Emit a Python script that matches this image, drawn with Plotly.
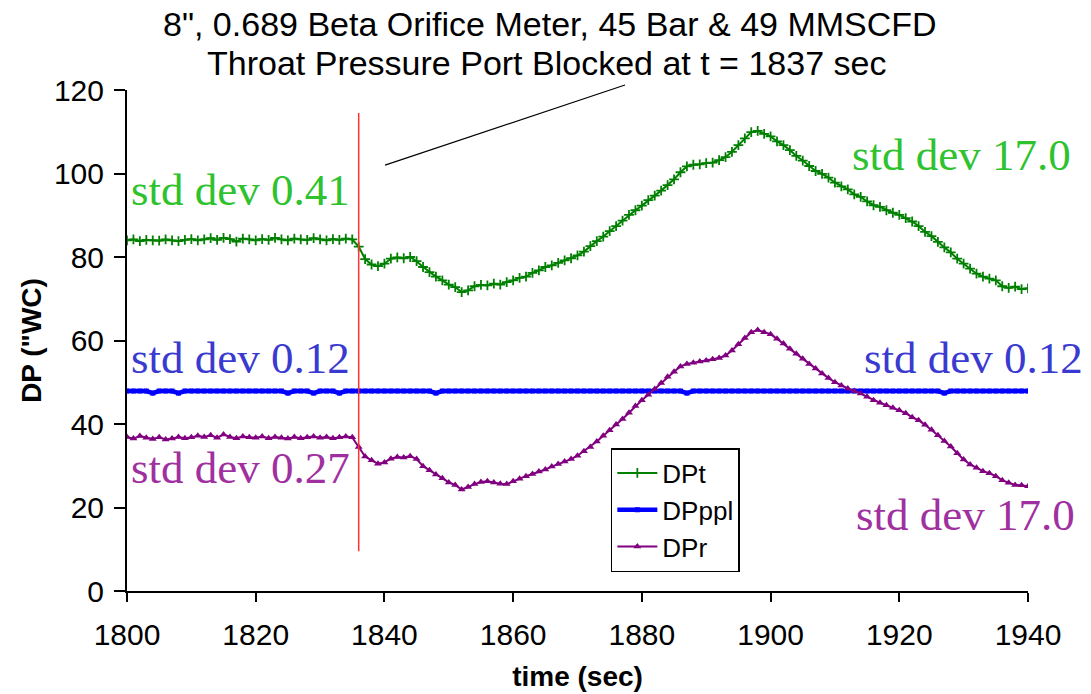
import plotly.graph_objects as go

# ---------------- data ----------------
time_sec = list(range(1800, 1941))

dp_t = [
    84.0, 84.2, 83.8, 84.1, 84.0, 83.9, 84.2, 84.0, 83.8, 84.1,
    84.3, 84.0, 84.2, 84.5, 84.1, 84.6, 84.3, 83.7, 84.4, 84.2,
    84.0, 84.3, 84.1, 84.6, 84.2, 84.0, 84.4, 84.2, 84.1, 84.5,
    84.2, 84.0, 84.3, 84.1, 84.4, 84.2,
    82.5, 79.5, 78.2, 77.8, 78.4, 79.6, 79.9, 79.7, 80.0, 79.0,
    77.6, 76.4, 75.3, 74.4, 73.4, 72.8, 71.6, 72.0, 73.0, 73.3,
    73.2, 73.6, 73.4, 74.0, 74.4, 75.0, 75.3, 76.2, 76.8, 77.6,
    78.0, 78.6, 79.2, 79.7, 80.4, 81.3, 82.6, 83.8, 84.9, 86.2,
    87.4, 88.7, 90.1, 91.2, 92.3, 93.6, 94.7, 95.9, 97.2, 98.6,
    100.3, 101.7, 102.1, 102.2, 102.5, 102.6, 103.2, 103.9, 105.2, 106.8,
    108.4, 109.9, 110.2, 109.5, 108.9, 107.7, 106.8, 105.6, 104.2, 103.1,
    101.8, 100.6, 99.9, 99.0, 97.8, 96.9, 96.2, 95.0, 94.4, 93.3,
    92.4, 92.0, 91.2, 90.6, 90.1, 89.3, 88.5, 87.4, 86.0, 85.0,
    83.6, 82.3, 81.1, 79.6, 78.4, 77.2, 76.0, 75.3, 74.8, 74.4,
    73.0, 72.6, 72.9, 72.3, 72.5,
]

dp_ppl = [
    47.9, 47.9, 47.9, 47.9, 47.4, 47.9, 47.9, 47.9, 47.4, 47.9,
    47.9, 47.9, 47.9, 47.9, 47.9, 47.9, 47.9, 47.9, 47.9, 47.9,
    47.9, 47.9, 47.9, 47.9, 47.9, 47.4, 47.9, 47.9, 47.9, 47.4,
    47.9, 47.9, 47.9, 47.4, 47.9, 47.9,
    47.9, 47.9, 47.9, 47.9, 47.9, 47.9, 47.9, 47.9, 47.9, 47.9,
    47.9, 47.9, 47.4, 47.9, 47.9, 47.9, 47.9, 47.9, 47.9, 47.9,
    47.9, 47.9, 47.9, 47.9, 47.9, 47.9, 47.9, 47.9, 47.9, 47.9,
    47.9, 47.9, 47.9, 47.9, 47.9, 47.9, 47.9, 47.9, 47.9, 47.9,
    47.9, 47.9, 47.9, 47.9, 47.9, 47.9, 47.9, 47.9, 47.9, 47.9,
    47.9, 47.4, 47.9, 47.9, 47.9, 47.9, 47.9, 47.9, 47.9, 47.9,
    47.9, 47.9, 47.9, 47.9, 47.9, 47.9, 47.9, 47.9, 47.9, 47.9,
    47.9, 47.9, 47.9, 47.9, 47.9, 47.9, 47.9, 47.9, 47.9, 47.9,
    47.9, 47.9, 47.9, 47.9, 47.9, 47.9, 47.9, 47.9, 47.9, 47.9,
    47.9, 47.4, 47.9, 47.9, 47.9, 47.9, 47.9, 47.9, 47.9, 47.9,
    47.9, 47.9, 47.9, 47.9, 47.9,
]

dp_r = [
    36.9, 36.5, 37.1, 36.7, 36.4, 36.8, 36.3, 36.5, 36.9, 36.6,
    36.8, 37.2, 36.9, 37.3, 36.7, 37.5, 36.9, 36.6, 37.0, 36.8,
    36.7, 37.0, 36.6, 36.9, 36.7, 36.5, 36.9, 36.6, 36.8, 37.0,
    36.7, 36.9, 36.6, 36.8, 37.0, 36.8,
    34.5, 32.2, 31.3, 30.5, 30.8, 31.7, 32.1, 32.0, 32.3, 31.6,
    29.9, 28.9, 27.9, 27.0, 26.0, 25.4, 24.3, 24.9, 25.6, 26.1,
    26.3, 26.0, 25.7, 25.6, 26.3, 26.9, 27.5, 28.0, 28.6, 29.1,
    29.8, 30.4, 31.0, 31.6, 32.4, 33.5, 34.5, 35.8, 37.2, 38.5,
    39.9, 41.2, 42.7, 44.3, 45.7, 47.0, 48.4, 49.8, 51.3, 52.5,
    53.8, 54.4, 54.7, 55.0, 55.2, 55.5, 55.8, 56.4, 57.6, 59.1,
    60.6, 62.0, 62.5, 62.0, 61.5, 60.4, 59.3, 58.0, 56.8, 55.6,
    54.4, 53.3, 52.1, 51.0, 50.0, 49.2, 48.5, 47.9, 47.3, 46.5,
    45.7, 45.1, 44.5, 43.9, 43.3, 42.6, 41.6, 40.9, 39.8, 38.6,
    37.3, 35.9, 34.6, 33.0, 31.5, 30.3, 29.5, 28.7, 28.2, 27.5,
    26.5, 25.9, 25.4, 25.3, 25.1,
]

series_names = ["DPt", "DPppl", "DPr"]
x_ticks = [1800, 1820, 1840, 1860, 1880, 1900, 1920, 1940]
y_ticks = [0, 20, 40, 60, 80, 100, 120]
block_time = 1836
block_span = [9.5, 114.5]

std_texts = ["std dev 0.41", "std dev 17.0", "std dev 0.12",
             "std dev 0.12", "std dev 0.27", "std dev 17.0"]

title_lines = ["8\", 0.689 Beta Orifice Meter, 45 Bar & 49 MMSCFD",
               "Throat Pressure Port Blocked at t = 1837 sec"]

# ---------------- figure ----------------
GREEN = "#008000"
BLUE = "#0000FF"
PURPLE = "#800080"

fig = go.Figure()
fig.add_trace(go.Scatter(
    x=time_sec, y=dp_t, name=series_names[0], mode="lines+markers",
    line=dict(color=GREEN, width=2),
    marker=dict(symbol="cross-thin", size=7, color=GREEN,
                line=dict(width=1.8, color=GREEN)),
))
fig.add_trace(go.Scatter(
    x=time_sec, y=dp_ppl, name=series_names[1], mode="lines+markers",
    line=dict(color=BLUE, width=4.5),
    marker=dict(symbol="square", size=5, color=BLUE),
))
fig.add_trace(go.Scatter(
    x=time_sec, y=dp_r, name=series_names[2], mode="lines+markers",
    line=dict(color=PURPLE, width=2),
    marker=dict(symbol="triangle-up", size=7, color=PURPLE),
))

# red vertical line marking the blockage
fig.add_shape(type="line", xref="x", yref="y",
              x0=block_time, x1=block_time, y0=block_span[0], y1=block_span[1],
              line=dict(color="#FF3030", width=1.5))
# pointer line from title
fig.add_shape(type="line", xref="paper", yref="paper",
              x0=0.2864, y0=0.850, x1=0.5527, y1=1.010,
              line=dict(color="black", width=1.2))

serif = "Liberation Serif, Times New Roman, serif"
label_specs = [
    (std_texts[0], "#2EC22E", 0.1265, 0.800),
    (std_texts[1], "#2EC22E", 0.926, 0.870),
    (std_texts[2], "#3A3AD0", 0.1265, 0.465),
    (std_texts[3], "#3A3AD0", 0.940, 0.465),
    (std_texts[4], "#A0309F", 0.1265, 0.245),
    (std_texts[5], "#A0309F", 0.931, 0.152),
]
for text, color, xp, yp in label_specs:
    fig.add_annotation(text=text, x=xp, y=yp, xref="paper", yref="paper",
                       showarrow=False, xanchor="center", yanchor="middle",
                       font=dict(family=serif, size=45, color=color))

sans = "Liberation Sans, Arial, sans-serif"
# title (two lines)
for line, xp, yp in [(title_lines[0], 0.4695, 1.1317), (title_lines[1], 0.4656, 1.0539)]:
    fig.add_annotation(text=line, x=xp, y=yp, xref="paper", yref="paper",
                       showarrow=False, xanchor="center", yanchor="middle",
                       font=dict(family=sans, size=34, color="black"))

fig.update_layout(
    width=1091, height=694,
    paper_bgcolor="white", plot_bgcolor="white",
    margin=dict(l=127, r=63, t=90, b=103),
    font=dict(family=sans, color="black"),
    showlegend=True,
    legend=dict(x=0.537, y=0.2854, xanchor="left", yanchor="top",
                bordercolor="black", borderwidth=1.5, bgcolor="white",
                font=dict(family=sans, size=26, color="black"),
                tracegroupgap=0, itemwidth=40),
    xaxis=dict(range=[1800, 1940], tickvals=x_ticks, showgrid=False,
               zeroline=False, showline=True, linecolor="black", linewidth=2,
               ticks="outside", ticklen=9, tickwidth=2, tickcolor="black",
               ticklabelstandoff=7, automargin=False,
               tickfont=dict(family=sans, size=30),
               title=dict(text="<b>time (sec)</b>", standoff=16,
                          font=dict(family=sans, size=28))),
    yaxis=dict(range=[0, 120], tickvals=y_ticks, showgrid=False,
               zeroline=False, showline=True, linecolor="black", linewidth=2,
               ticks="outside", ticklen=11, tickwidth=2, tickcolor="black",
               ticklabelstandoff=4, automargin=False,
               tickfont=dict(family=sans, size=30),
               title=dict(text="<b>DP (\"WC)</b>", standoff=4,
                          font=dict(family=sans, size=28))),
)

fig.write_html("out.html", config={"displayModeBar": False},
               post_script="document.body.style.margin='0px';")
